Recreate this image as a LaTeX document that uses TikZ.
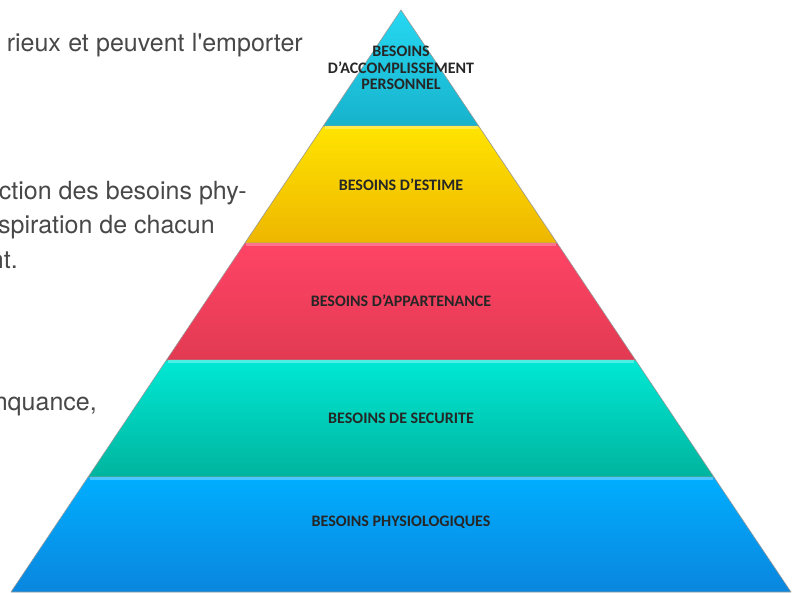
\documentclass[tikz,border=0pt]{standalone}
\usepackage{fontspec}
\setmainfont{TeX Gyre Heros}[Ligatures=TeXOff]
\newfontfamily\etiquette{Carlito}
\usepackage{xcolor}
\definecolor{cyanhaut}{HTML}{26D8F2}
\definecolor{cyanbas}{HTML}{17B2CC}
\definecolor{jaunehaut}{HTML}{FFE400}
\definecolor{jaunebas}{HTML}{EEB600}
\definecolor{rougehaut}{HTML}{FF4466}
\definecolor{rougebas}{HTML}{E23A52}
\definecolor{vertehaut}{HTML}{00E8D4}
\definecolor{vertebas}{HTML}{00B49E}
\definecolor{bleuhaut}{HTML}{00AEFF}
\definecolor{bleubas}{HTML}{0A86DE}
\definecolor{texte}{HTML}{484848}
\tikzset{
	etage/.style={draw=black!40, line width=0.6pt, line join=round},
	reflet/.style={line width=2.2pt},
	besoin/.style={font=\etiquette\bfseries\fontsize{16}{16.5}\selectfont, text=black!85, align=center, inner sep=0pt},
	paragraphe/.style={font=\fontsize{25}{30}\selectfont, text=texte, anchor=base east, inner sep=0pt}
}

\begin{document}
\begin{tikzpicture}[x=1pt, y=-1pt]
				\useasboundingbox (0,0) rectangle (798,592);
				\clip (0,0) rectangle (798,592);

				% texte coupe a gauche
				\node[paragraphe] (ligneun) at (303,51) {\makebox[296pt][s]{rieux et peuvent l'emporter}};
				\node[paragraphe] (lignedeux) at (247,199) {ction des besoins phy-};
				\node[paragraphe] (lignetrois) at (215,233) {spiration de chacun};
				\node[paragraphe] (lignequatre) at (18,268) {nt.};
				\node[paragraphe] (lignecinq) at (97,410) {nquance,};

				% etages de la pyramide
				\draw[etage, top color=bleuhaut, bottom color=bleubas]
					(401-312.9,477) -- (401+312.9,477) -- (401+390,592) -- (401-390,592) -- cycle;
				\draw[etage, top color=vertehaut, bottom color=vertebas]
					(401-234.5,360) -- (401+234.5,360) -- (401+312.9,477) -- (401-312.9,477) -- cycle;
				\draw[etage, top color=rougehaut, bottom color=rougebas]
					(401-156.1,243) -- (401+156.1,243) -- (401+234.5,360) -- (401-234.5,360) -- cycle;
				\draw[etage, top color=jaunehaut, bottom color=jaunebas]
					(401-77.7,126) -- (401+77.7,126) -- (401+156.1,243) -- (401-156.1,243) -- cycle;
				\draw[etage, top color=cyanhaut, bottom color=cyanbas]
					(401,10) -- (401+77.7,126) -- (401-77.7,126) -- cycle;

				% reflets en haut de chaque etage
				\draw[reflet, color=bleuhaut!70!white]
					(401-311.5,478.5) -- (401+311.5,478.5);
				\draw[reflet, color=vertehaut!70!white]
					(401-233.2,361.5) -- (401+233.2,361.5);
				\draw[reflet, color=rougehaut!75!white]
					(401-154.8,244.5) -- (401+154.8,244.5);
				\draw[reflet, color=jaunehaut!70!white]
					(401-76.5,127.5) -- (401+76.5,127.5);

				% etiquettes
				\node[besoin] (accomplissement) at (401,68) {BESOINS\\D’ACCOMPLISSEMENT\\PERSONNEL};
				\node[besoin] (estime) at (401,185) {BESOINS D’ESTIME};
				\node[besoin] (appartenance) at (401,301) {BESOINS D’APPARTENANCE};
				\node[besoin] (securite) at (401,418) {BESOINS DE SECURITE};
				\node[besoin] (physio) at (401,522) {BESOINS PHYSIOLOGIQUES};
			\end{tikzpicture}
\end{document}
